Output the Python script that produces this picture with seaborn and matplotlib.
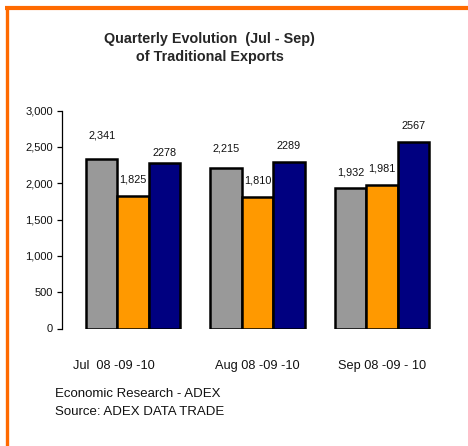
import matplotlib
matplotlib.use("Agg")
import matplotlib.pyplot as plt
import matplotlib.transforms as mtransforms
from matplotlib.lines import Line2D
import seaborn as sns
import pandas as pd

# ---- data ----
categories = ["Jul  08 -09 -10", "Aug 08 -09 -10", "Sep 08 -09 - 10"]
years = ["2008", "2009", "2010"]
values_2008 = [2341, 2215, 1932]
values_2009 = [1825, 1810, 1981]
values_2010 = [2278, 2289, 2567]
y_ticks = [0, 500, 1000, 1500, 2000, 2500, 3000]
title_text = "Quarterly Evolution  (Jul - Sep)\nof Traditional Exports"
footer_lines = ["Economic Research - ADEX", "Source: ADEX DATA TRADE"]

colors = ["#999999", "#FF9900", "#000080"]
# vertical offset (points) of each value label above its bar, per series
label_pads = [[13, 10, 8], [8, 8, 8], [4, 8, 8]]

rows = []
for yr, vals in zip(years, [values_2008, values_2009, values_2010]):
    for c, v in zip(categories, vals):
        rows.append({"cat": c, "year": yr, "value": v})
df = pd.DataFrame(rows)

sns.set_style("white")
plt.rcParams["font.family"] = ["Liberation Sans", "DejaVu Sans"]

W, H = 468, 446
fig = plt.figure(figsize=(W / 100, H / 100), dpi=100)
fig.patch.set_facecolor("white")

ax_left = 62 / W
ax_bottom = (H - 328.5) / H
ax_top = (H - 110.7) / H
ax = fig.add_axes([ax_left, ax_bottom, 391 / W, ax_top - ax_bottom])

sns.barplot(data=df, x="cat", y="value", hue="year", order=categories,
            hue_order=years, palette=colors, width=0.755, saturation=1,
            edgecolor="black", linewidth=1.8, legend=False, ax=ax)

ax.set_xlim(-0.57, 2.57)
ax.set_ylim(0, 3000)
ax.set_yticks(y_ticks)
ax.set_yticklabels([f"{t:,}" for t in y_ticks], fontsize=8.0, color="#111111")
ax.set_xlabel("")
ax.set_ylabel("")
for s in ["top", "right", "bottom"]:
    ax.spines[s].set_visible(False)
ax.spines["left"].set_linewidth(0.9)
ax.spines["left"].set_color("black")
ax.tick_params(axis="y", direction="out", length=3.5, width=0.9, pad=3,
               left=True, colors="black", labelcolor="#111111")
ax.tick_params(axis="x", length=0, pad=23, labelsize=9.2, labelcolor="#111111")

# shift first category label slightly left
lbls = ax.get_xticklabels()
off = mtransforms.ScaledTranslation(-19 / 100, 0, fig.dpi_scale_trans)
lbls[0].set_transform(lbls[0].get_transform() + off)

# value labels
all_vals = [values_2008, values_2009, values_2010]
for si, cont in enumerate(ax.containers):
    for ci, bar in enumerate(cont):
        v = all_vals[si][ci]
        txt = f"{v:,}" if si < 2 else f"{v}"
        ax.annotate(txt, (bar.get_x() + bar.get_width() / 2, bar.get_height()),
                    xytext=(0, label_pads[si][ci]), textcoords="offset points",
                    ha="center", va="bottom", fontsize=7.8, color="#111111")

fig.text(209.5 / W, 1 - 48 / H, title_text, ha="center", va="center",
         fontsize=10.4, fontweight="bold", linespacing=1.45)
fig.text(55 / W, 1 - 394 / H, footer_lines[0], ha="left", va="center", fontsize=9.5,
         color="#111111")
fig.text(55 / W, 1 - 412 / H, footer_lines[1], ha="left", va="center", fontsize=9.5,
         color="#111111")

# orange frame (top and left)
orange = "#FF6A00"
fig.add_artist(Line2D([5 / W, 1], [1 - 8 / H, 1 - 8 / H], color=orange, lw=3.0,
                      transform=fig.transFigure, solid_capstyle="butt"))
fig.add_artist(Line2D([6.5 / W, 6.5 / W], [1 - 6 / H, 0], color=orange, lw=2.4,
                      transform=fig.transFigure, solid_capstyle="butt"))

fig.savefig("out.png", dpi=100)
